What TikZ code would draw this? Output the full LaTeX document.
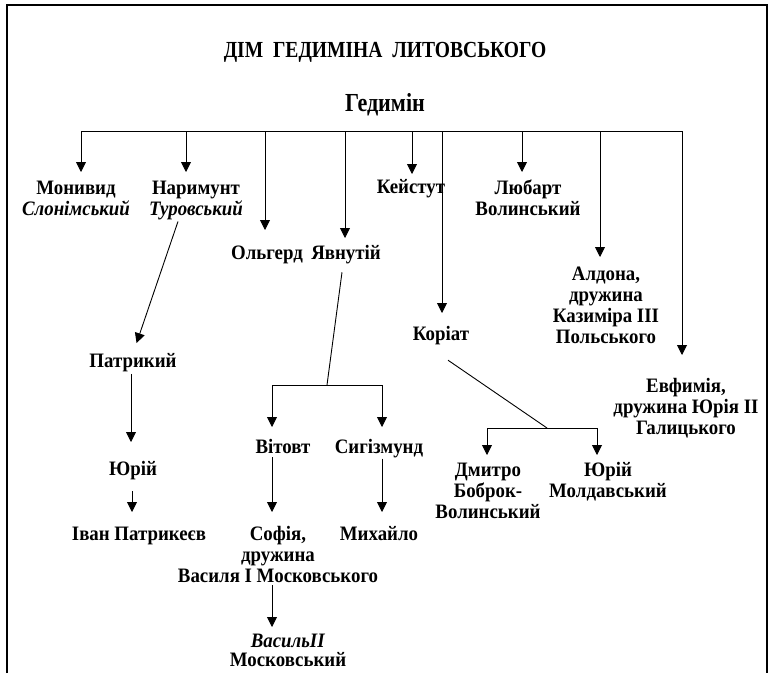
\documentclass[tikz,border=0pt]{standalone}
\usepackage{fontspec}
\setmainfont{Liberation Serif}
\newfontfamily\titlefont{Liberation Serif}[FakeStretch=0.85]
\newfontfamily\bodyfont{Liberation Serif}[FakeStretch=0.92]
\usepackage{tikz}
\usetikzlibrary{positioning}
\usetikzlibrary{arrows.meta}

\begin{document}
\begin{tikzpicture}[
    x=1pt, y=-1pt,
    person/.style={anchor=north, inner sep=0pt, align=center, font=\bodyfont\fontsize{20.5}{21}\selectfont\bfseries},
    arr/.style={-{Triangle[length=10pt,width=10pt]}, line width=0.9pt},
    link/.style={line width=0.9pt}
    ]
    \useasboundingbox (0,0) rectangle (771,673);
    %Frame
    \draw[line width=1.5pt] (7,673) -- (7,5) -- (767,5) -- (767,673);

    %Nodes
    \node[anchor=base, font=\titlefont\fontsize{23}{23}\selectfont\bfseries] (title) at (385,57) {ДІМ\ \ ГЕДИМІНА\ \ ЛИТОВСЬКОГО};
    \node[anchor=base, font=\titlefont\fontsize{26}{26}\selectfont\bfseries] (ged) at (385,111) {Гедимін};

    \node[person] (mon) at (76,180.5) {Монивид\\\textit{Слонімський}};
    \node[person] (nar) at (196,180.5) {Наримунт\\\textit{Туровський}};
    \node[person] (olg) at (267,245.5) {Ольгерд};
    \node[person] (yav) at (346,245.5) {Явнутій};
    \node[person] (kei) at (411,179.5) {Кейстут};
    \node[person] (kor) at (441,326.5) {Коріат};
    \node[person] (lyu) at (528,179.5) {Любарт\\Волинський};
    \node[person] (ald) at (606,266.5) {Алдона,\\дружина\\Казиміра III\\Польського};
    \node[person] (evf) at (686,378.5) {Евфимія,\\дружина Юрія II\\Галицького};

    \node[person] (pat) at (133,353.5) {Патрикий};
    \node[person] (yur1) at (133,461.5) {Юрій};
    \node[person] (ivan) at (139,526.5) {Іван Патрикеєв};

    \node[person] (vit) at (283,439.5) {Вітовт};
    \node[person] (sig) at (379,439.5) {Сигізмунд};
    \node[person] (sof) at (278,526.5) {Софія,\\дружина\\Василя I Московського};
    \node[person] (mik) at (379,526.5) {Михайло};
    \node[person, font=\bodyfont\fontsize{20.5}{19}\selectfont\bfseries] (vas) at (288,634) {\textit{ВасильII}\\Московський};

    \node[person] (dmi) at (488,462.5) {Дмитро\\Боброк-\\Волинський};
    \node[person] (yur2) at (608,462.5) {Юрій\\Молдавський};

    %Joints
    \coordinate (b1) at (81,131);
    \coordinate (b2) at (186,131);
    \coordinate (b3) at (265,131);
    \coordinate (b4) at (345,131);
    \coordinate (b5) at (412,131);
    \coordinate (b6) at (442,131);
    \coordinate (b7) at (522,131);
    \coordinate (b8) at (600,131);
    \coordinate (b9) at (682,131);
    \coordinate (j1) at (327,385);
    \coordinate (v1) at (272,385);
    \coordinate (v2) at (382,385);
    \coordinate (j2) at (547,428);
    \coordinate (d1) at (487,428);
    \coordinate (d2) at (597,428);

    %Lines
    \draw[link] (b1) -- (b9);
    \draw[arr, shorten >=8.5pt] (b1) -- (b1 |- mon.north);
    \draw[arr, shorten >=8.5pt] (b2) -- (b2 |- nar.north);
    \draw[arr, shorten >=15.5pt] (b3) -- (b3 |- olg.north);
    \draw[arr, shorten >=7.5pt] (b4) -- (b4 |- yav.north);
    \draw[arr, shorten >=5.5pt] (b5) -- (b5 |- kei.north);
    \draw[arr, shorten >=13.5pt] (b6) -- (b6 |- kor.north);
    \draw[arr, shorten >=7.5pt] (b7) -- (b7 |- lyu.north);
    \draw[arr, shorten >=9.5pt] (b8) -- (b8 |- ald.north);
    \draw[arr, shorten >=23.5pt] (b9) -- (b9 |- evf.north);

    \draw[arr, shorten >=11pt] ([xshift=-18pt,yshift=-1.7pt]nar.south) -- (pat.north);
    \draw[arr, shorten <=1.5pt, shorten >=19.5pt] ([xshift=-2pt]pat.south) -- ([xshift=-2pt]pat.south |- yur1.north);
    \draw[arr, shorten <=11pt, shorten >=14.5pt] ([xshift=-1pt]yur1.south) -- ([xshift=-1pt]yur1.south |- ivan.north);

    \draw[link] ([xshift=-4pt,yshift=-7.7pt]yav.south) -- (j1);
    \draw[link] (v1) -- (v2);
    \draw[arr, shorten >=12.5pt] (v1) -- (v1 |- vit.north);
    \draw[arr, shorten >=12.5pt] (v2) -- (v2 |- sig.north);
    \draw[arr, shorten <=3pt, shorten >=14.5pt] (v1 |- vit.south) -- (v1 |- sof.north);
    \draw[arr, shorten >=14.5pt] (v2 |- sig.south) -- (v2 |- mik.north);
    \draw[arr, shorten <=2pt, shorten >=7pt] (v1 |- sof.south) -- (v1 |- vas.north);

    \draw[link] ([xshift=7pt,yshift=-14.7pt]kor.south) -- (j2);
    \draw[link] (d1) -- (d2);
    \draw[arr, shorten >=7.5pt] (d1) -- (d1 |- dmi.north);
    \draw[arr, shorten >=7.5pt] (d2) -- (d2 |- yur2.north);

\end{tikzpicture}
\end{document}
